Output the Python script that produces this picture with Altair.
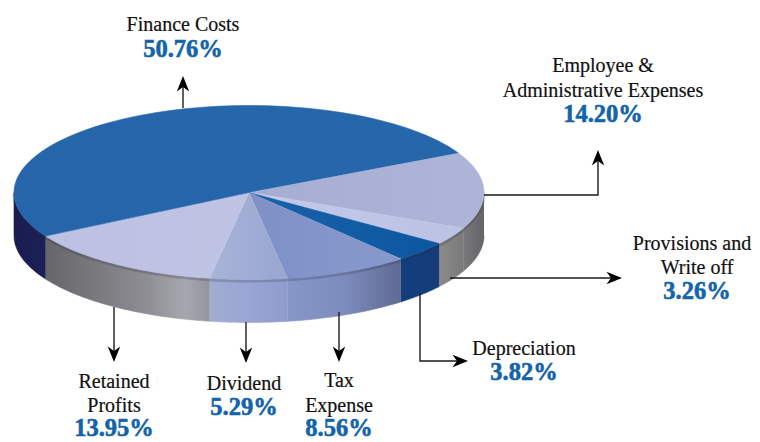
import numpy as np
import pandas as pd
import altair as alt

# ---- data ----
categories = ["Employee & Administrative Expenses", "Provisions and Write off", "Depreciation",
              "Tax Expense", "Dividend", "Retained Profits", "Finance Costs"]
shares = [14.20, 3.26, 3.82, 8.56, 5.29, 13.95, 50.76]

# ---- styles per slice (clockwise from the employee slice) ----
top_stops = [["#a6add2", "#aeb5d8"], ["#c4c9ea", "#bcc2e4"], ["#1a62a8", "#0b57a0"],
             ["#7e90c6", "#8799cc"], ["#a9b3d8", "#98a6d0"], ["#bcc0e2", "#bfc3e4"], ["#2566aa", "#2666aa"]]
wall_stops = [
    [(0, "#7a7a7c"), (1, "#646466")],
    [(0, "#8a8a8a"), (1, "#7a7a7c")],
    [(0, "#123e7e"), (1, "#163c78")],
    [(0, "#8796c8"), (0.5, "#7c8cbc"), (1, "#5f6a94")],
    [(0, "#a3acd0"), (0.5, "#99a6d4"), (1, "#8e9ccc")],
    [(0, "#66666a"), (0.6, "#8c8c92"), (0.85, "#a6a6ae"), (1, "#95959d")],
    [(0, "#1a1c50"), (1, "#1c2058")],
]

# ---- layout of the drawing (reference pixels) ----
cx, cy, rx, ry, depth, start_deg = 249.0, 192.5, 235.0, 87.0, 43.0, 27.0


def grad(stops):
    return alt.Gradient(gradient="linear", x1=0, x2=1, y1=0, y2=0,
                        stops=[alt.GradientStop(offset=o, color=c) for o, c in stops])


def poly(xs, ys):
    return pd.DataFrame({"x": xs, "y": ys, "i": range(len(xs))})


X = alt.X("x:Q", scale=alt.Scale(domain=[8, 752]), axis=None)
Y = alt.Y("y:Q", scale=alt.Scale(domain=[442, 8]), axis=None)


def filled(df, fill, stroke_w=0.6):
    return alt.Chart(df).mark_line(fill=fill, stroke=fill, strokeWidth=stroke_w, interpolate="linear").encode(
        x=X, y=Y, order=alt.Order("i:Q"))


total = sum(shares)
edges = start_deg - np.cumsum([0] + shares) / total * 360.0

walls, tops = [], []
for k in range(len(shares)):
    a0, a1 = edges[k], edges[k + 1]
    t = np.radians(np.linspace(a0, a1, 80))
    xs = cx + rx * np.cos(t)
    ys = cy - ry * np.sin(t)
    tops.append(filled(poly(np.r_[cx, xs], np.r_[cy, ys]),
                       grad([(0, top_stops[k][0]), (1, top_stops[k][1])])))
    # visible part of the wall: the lower half of the ellipse (angles -180..0)
    lo, hi = max(a1, -180.0), min(a0, 0.0)
    if lo < hi:
        w = np.radians(np.linspace(hi, lo, 60))
        wx = cx + rx * np.cos(w)
        wy = cy - ry * np.sin(w)
        d = poly(np.r_[wx, wx[::-1]], np.r_[wy, wy[::-1] + depth])
        walls.append(filled(d, grad(wall_stops[k])))

# soft shading just under the rim of the top face
rim_t = np.radians(np.linspace(-180, 0, 200))
rim = poly(cx + rx * np.cos(rim_t), cy - ry * np.sin(rim_t) + 1.5)
rim_line = alt.Chart(rim).mark_line(color="#2a2a40", opacity=0.22, strokeWidth=3).encode(
    x=X, y=Y, order=alt.Order("i:Q"))

# leader lines
leaders = [
    [(183, 108), (183, 80)],
    [(484, 195), (598, 195), (598, 155)],
    [(450, 278), (618, 278)],
    [(420, 293), (420, 361), (463, 361)],
    [(114, 307), (114, 357)],
    [(246, 322), (246, 358)],
    [(339, 312), (339, 357)],
]
lead_df = pd.DataFrame([{"x": p[0], "y": p[1], "i": j, "g": n}
                        for n, l in enumerate(leaders) for j, p in enumerate(l)])
lines = alt.Chart(lead_df).mark_line(color="#1a1a1a", strokeWidth=1.4).encode(
    x=X, y=Y, detail="g:N", order=alt.Order("i:Q"))

# arrow heads: tip at origin, pointing down before rotation
tips_x = [183, 598, 622, 468, 114, 246, 339]
tips_y = [76, 150, 278, 361, 362, 363, 362]
tips_a = [180, 180, 270, 270, 0, 0, 0]
heads = alt.Chart(pd.DataFrame({"x": tips_x, "y": tips_y, "a": tips_a})).mark_point(
    shape="M0,0 L-0.62,-1.55 L0,-1.1 L0.62,-1.55 Z", filled=True, color="#000000", opacity=1, size=400
).encode(x=X, y=Y, angle=alt.Angle("a:Q", scale=None))

# labels
label_lines = ["Finance Costs", "Employee &", "Administrative Expenses", "Provisions and", "Write off",
               "Depreciation", "Retained", "Profits", "Dividend", "Tax", "Expense"]
label_x = [183, 603, 603, 692, 697, 524, 114, 114, 244, 339, 339]
label_y = [25, 66, 91, 244, 268, 349, 382, 406, 384, 381, 406]
pct_lines = ["50.76%", "14.20%", "3.26%", "3.82%", "13.95%", "5.29%", "8.56%"]
pct_x = [183, 603, 697, 524, 114, 244, 339]
pct_y = [50, 115, 292, 373, 429, 408, 429]

labels = alt.Chart(pd.DataFrame({"x": label_x, "y": label_y, "t": label_lines})).mark_text(
    font="Liberation Serif", fontSize=20, color="#111111", align="center", baseline="middle",
    stroke="#111111", strokeWidth=0.2
).encode(x=X, y=Y, text="t:N")
pcts = alt.Chart(pd.DataFrame({"x": pct_x, "y": pct_y, "t": pct_lines})).mark_text(
    font="Liberation Serif", fontSize=24.5, fontWeight="bold", color="#1464a8", align="center", baseline="middle",
    stroke="#1464a8", strokeWidth=0.6
).encode(x=X, y=Y, text="t:N")

chart = alt.layer(*walls, rim_line, *tops, lines, heads, labels, pcts).properties(
    width=744, height=434, padding=0, autosize=alt.AutoSizeParams(type="none"), background="#ffffff"
).configure_view(stroke=None)

chart.save("out.html", embed_options={"renderer": "svg", "actions": False})
